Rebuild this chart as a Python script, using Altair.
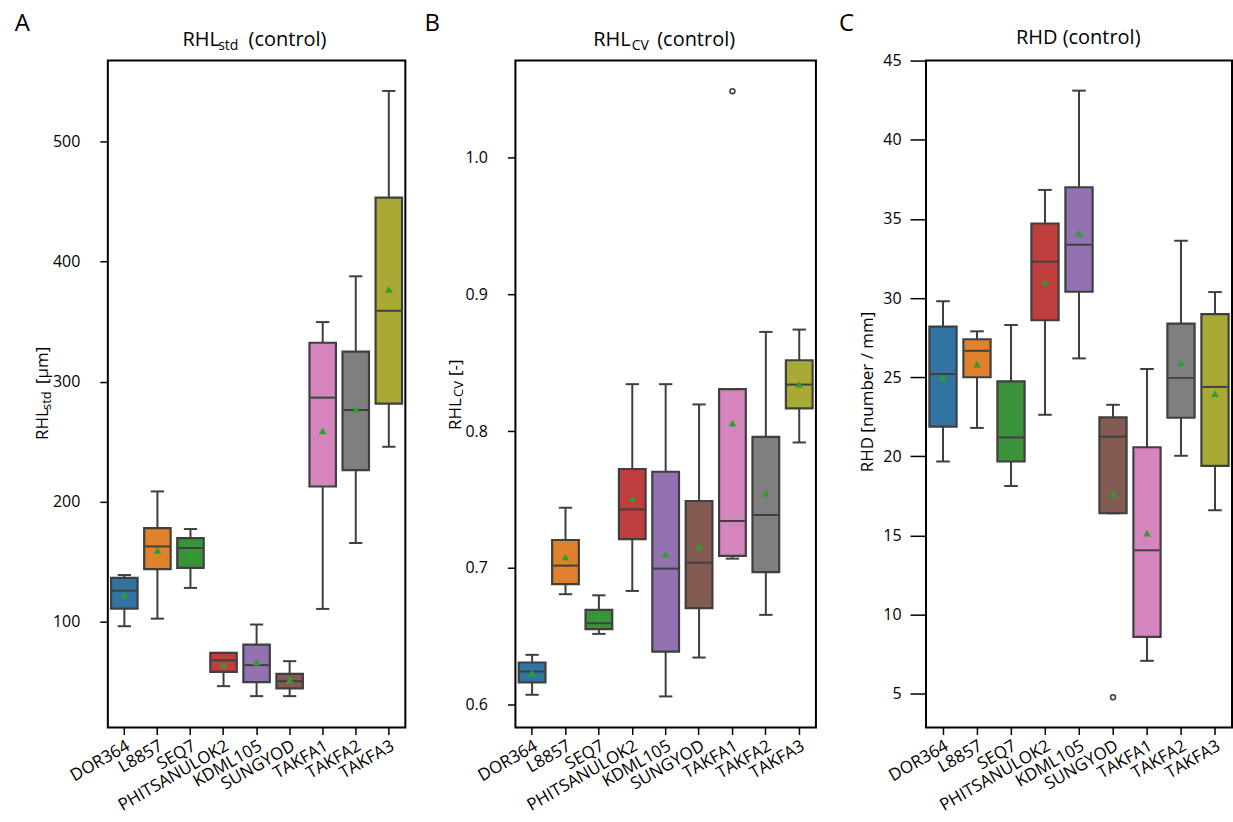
import altair as alt
import pandas as pd

FONT = "Open Sans"
LINE = "#3f3f3f"
MEAN_C = "#2ca02c"

cultivars = ["DOR364", "L8857", "SEQ7", "PHITSANULOK2", "KDML105",
             "SUNGYOD", "TAKFA1", "TAKFA2", "TAKFA3"]
palette = ["#3274a1", "#e1812c", "#3a923a", "#c03d3e", "#9372b2",
           "#845b53", "#d684bd", "#7f7f7f", "#a9aa35"]

# Panel A: RHL_std [um]
a_wlo = [96.4, 102.7, 128.3, 46.5, 38.2, 38.2, 110.8, 165.7, 245.8]
a_q1 = [111.0, 144.0, 144.9, 58.4, 49.8, 44.6, 212.7, 226.4, 281.7]
a_med = [126.0, 162.8, 161.5, 68.0, 64.0, 50.6, 286.7, 276.3, 359.0]
a_q3 = [136.6, 178.0, 169.8, 74.2, 81.1, 56.8, 332.4, 325.0, 453.2]
a_whi = [139.0, 208.6, 177.3, 74.2, 97.8, 67.3, 349.6, 387.7, 542.0]
a_mean = [122.4, 159.5, 156.0, 64.0, 66.4, 52.0, 259.0, 276.9, 376.7]
a_out_cat = []
a_out_val = []

# Panel B: RHL_CV [-]
b_wlo = [0.6073, 0.6808, 0.6518, 0.6832, 0.6061, 0.6345, 0.7068, 0.6657, 0.7917]
b_q1 = [0.6163, 0.6881, 0.6553, 0.7210, 0.6389, 0.6706, 0.7088, 0.6969, 0.8166]
b_med = [0.6243, 0.7017, 0.6596, 0.7428, 0.6995, 0.7039, 0.7343, 0.7387, 0.8340]
b_q3 = [0.6309, 0.7204, 0.6693, 0.7723, 0.7703, 0.7489, 0.8307, 0.7958, 0.8518]
b_whi = [0.6365, 0.7440, 0.6800, 0.8343, 0.8343, 0.8195, 0.8307, 0.8725, 0.8742]
b_mean = [0.6231, 0.7078, 0.6645, 0.7509, 0.7102, 0.7155, 0.8058, 0.7545, 0.8341]
b_out_cat = ["TAKFA1"]
b_out_val = [1.0484]

# Panel C: RHD [number / mm]
c_wlo = [19.68, 21.80, 18.13, 22.63, 26.19, 16.41, 7.09, 20.04, 16.60]
c_q1 = [21.88, 25.00, 19.68, 28.60, 30.40, 16.41, 8.60, 22.44, 19.40]
c_med = [25.20, 26.67, 21.20, 32.30, 33.37, 21.25, 14.07, 24.96, 24.39]
c_q3 = [28.20, 27.40, 24.74, 34.71, 37.00, 22.46, 20.58, 28.39, 28.98]
c_whi = [29.80, 27.90, 28.30, 36.83, 43.10, 23.26, 25.52, 33.62, 30.38]
c_mean = [24.97, 25.83, 22.63, 31.00, 34.08, 17.64, 15.16, 25.90, 23.97]
c_out_cat = ["SUNGYOD"]
c_out_val = [4.79]

H = 668
one = pd.DataFrame({"k": [0]})


def txt(text, x, y, size, align="left", angle=0):
    return alt.Chart(one).mark_text(
        text=text, font=FONT, fontSize=size, align=align, angle=angle,
        baseline="alphabetic", color="black"
    ).encode(x=alt.value(x), y=alt.value(y))


def panel(width, wlo, q1, med, q3, whi, mean, out_cat, out_val,
          domain, ticks, fmt, ytick, ypad, texts):
    df = pd.DataFrame({"cultivar": cultivars, "wlo": wlo, "q1": q1,
                       "med": med, "q3": q3, "whi": whi, "mean": mean})
    band = width / len(cultivars)
    xenc = alt.X("cultivar:N", sort=cultivars, title=None,
                 scale=alt.Scale(domain=cultivars, paddingInner=0, paddingOuter=0),
                 axis=alt.Axis(labelAngle=-30, labelAlign="right", labelFontSize=17,
                               labelBaseline="top", labelPadding=3, tickSize=7))
    yscale = alt.Scale(domain=domain, nice=False, zero=False)
    yaxis = alt.Axis(values=ticks, format=fmt, title=None, labelFontSize=16,
                     tickSize=ytick, labelPadding=ypad)
    base = alt.Chart(df).encode(x=xenc)
    whisk = base.mark_rule(color=LINE, strokeWidth=2).encode(
        y=alt.Y("wlo:Q", scale=yscale, axis=yaxis), y2="whi:Q")
    box = base.mark_bar(width=alt.RelativeBandSize(0.8), stroke=LINE,
                        strokeWidth=2.2, opacity=1).encode(
        y="q1:Q", y2="q3:Q",
        color=alt.Color("cultivar:N", legend=None,
                        scale=alt.Scale(domain=cultivars, range=palette)))
    medl = base.mark_tick(color=LINE, thickness=2, size=band * 0.8 - 2,
                          opacity=1).encode(y="med:Q")
    caplo = base.mark_tick(color=LINE, thickness=2, size=band * 0.4,
                           opacity=1).encode(y="wlo:Q")
    caphi = base.mark_tick(color=LINE, thickness=2, size=band * 0.4,
                           opacity=1).encode(y="whi:Q")
    meanp = base.mark_point(shape="triangle-up", filled=True, color=MEAN_C,
                            size=60, opacity=1).encode(y="mean:Q")
    layers = [whisk, box, medl, caplo, caphi, meanp]
    if out_cat:
        odf = pd.DataFrame({"cultivar": out_cat, "val": out_val})
        outl = alt.Chart(odf).mark_point(
            shape="circle", filled=False, color=LINE, strokeWidth=1.6,
            size=24, opacity=1).encode(x=xenc, y="val:Q")
        layers.append(outl)
    for t in texts:
        layers.append(txt(*t))
    return alt.layer(*layers).properties(width=width, height=H)


pA = panel(298, a_wlo, a_q1, a_med, a_q3, a_whi, a_mean, a_out_cat, a_out_val,
           [12.1, 567.3], [100, 200, 300, 400, 500], "d", 8, 20,
           [("A", -93.3, -30, 24),
            ("RHL", 74.7, -14.3, 20), ("std", 110.5, -10.3, 14),
            ("(control)", 141, -14.3, 20),
            ("RHL", -60, 380, 17, "left", 270), ("std", -57, 350, 13, "left", 270),
            ("[µm]", -60, 324, 17, "left", 270)])

pB = panel(301, b_wlo, b_q1, b_med, b_q3, b_whi, b_mean, b_out_cat, b_out_val,
           [0.5834, 1.0708], [0.6, 0.7, 0.8, 0.9, 1.0], ".1f", 8, 20,
           [("B", -91, -30, 24),
            ("RHL", 78, -14.3, 20), ("CV", 116.5, -10.3, 14),
            ("(control)", 142, -14.3, 20),
            ("RHL", -55, 370, 17, "left", 270), ("CV", -52, 337, 13, "left", 270),
            ("[-]", -55, 316, 17, "left", 270)])

pC = panel(306.5, c_wlo, c_q1, c_med, c_q3, c_whi, c_mean, c_out_cat, c_out_val,
           [2.88, 45.0], [5, 10, 15, 20, 25, 30, 35, 40, 45], "d", 16, 9,
           [("C", -87.2, -30, 24),
            ("RHD (control)", 152.5, -16.7, 20, "center"),
            ("RHD [number / mm]", -53.5, 332, 17, "center", 270)])

chart = alt.hconcat(pA, pB, pC, spacing=110.25, bounds="flush").properties(
    padding={"left": 13, "top": 10, "right": 0, "bottom": 2},
    background="white",
).configure_view(stroke="black", strokeWidth=2).configure_axis(
    domain=False, grid=False, ticks=True, tickColor="black", tickWidth=1.5,
    labelFont=FONT, labelColor="black",
)

chart.save("out.html", embed_options={"renderer": "svg", "actions": False})
